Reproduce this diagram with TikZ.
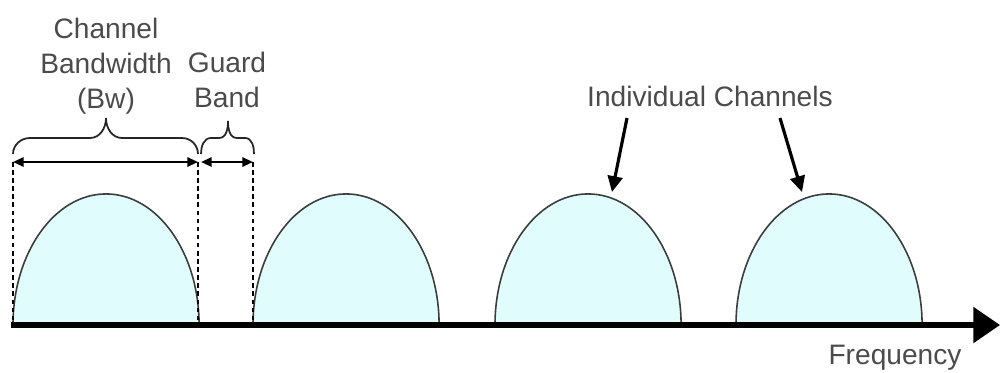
\documentclass[tikz,border=0pt]{standalone}
\usepackage{fontspec}
\setmainfont{Liberation Sans}
\usetikzlibrary{arrows.meta}
\definecolor{humpfill}{RGB}{224,252,252}
\definecolor{humpline}{RGB}{60,60,60}
\definecolor{txt}{RGB}{75,75,75}
\tikzset{
  hump/.style={draw=humpline, line width=0.45pt, fill=humpfill},
  dashline/.style={line width=0.65pt, dash pattern=on 1.3pt off 1pt},
  dimarrow/.style={line width=0.6pt, {Triangle[length=3pt,width=2.6pt]}-{Triangle[length=3pt,width=2.6pt]}},
  bracestyle/.style={line width=0.5pt, draw=black!85},
  lbl/.style={font=\fontsize{8}{10}\selectfont, text=txt, align=center, inner sep=0pt},
  pointer/.style={line width=0.9pt, -{Triangle[length=4.5pt,width=4.2pt]}},
  axis/.style={line width=1.45pt, -{Triangle[length=7.6pt,width=10pt]}}
}
\begin{document}
\begin{tikzpicture}[x=0.01cm,y=-0.01cm]
\useasboundingbox (0,0) rectangle (1000,372);
% humps
\foreach \x in {13,253,495,736}{
  \draw[hump] (\x,325) arc[start angle=180,end angle=0,x radius=0.93cm,y radius=1.31cm] -- cycle;
}
% band edges
\coordinate (a1) at (13,162);
\coordinate (b1) at (198,162);
\coordinate (b2) at (201,162);
\coordinate (c1) at (253,162);
\coordinate (a0) at (13,325);
\coordinate (b0) at (198,325);
\coordinate (c0) at (253,325);
\draw[dashline] (a1) -- (a0);
\draw[dashline] (b1) -- (b0);
\draw[dashline] (c1) -- (c0);
\draw[dimarrow] (a1) -- (b1);
\draw[dimarrow] (b2) -- (c1);
% braces
\draw[bracestyle] (13,154) to[out=90,in=180] (30,138) -- (90,138) to[out=0,in=-90] (106,118)
  to[out=-90,in=180] (122,138) -- (182,138) to[out=0,in=90] (198,154);
\draw[bracestyle] (201,154) to[out=90,in=180] (211,138) -- (219,138) to[out=0,in=-90] (228,121)
  to[out=-90,in=180] (237,138) -- (245,138) to[out=0,in=90] (254,154);
% axis
\coordinate (ax0) at (11,325);
\coordinate (ax1) at (1000,325);
\draw[axis] (ax0) -- (ax1);
% labels
\node[lbl] (bw) at (106,66) {Channel\\Bandwidth\\(Bw)};
\node[lbl] (gb) at (227,80) {Guard\\Band};
\node[lbl] (ic) at (710,96) {Individual Channels};
\node[lbl] (fq) at (895,358) {Frequency};
% pointers
\coordinate (p1s) at (627,118);
\coordinate (p1e) at (612,192);
\coordinate (p2s) at (780,118);
\coordinate (p2e) at (802,192);
\draw[pointer] (p1s) -- (p1e);
\draw[pointer] (p2s) -- (p2e);
\end{tikzpicture}
\end{document}
